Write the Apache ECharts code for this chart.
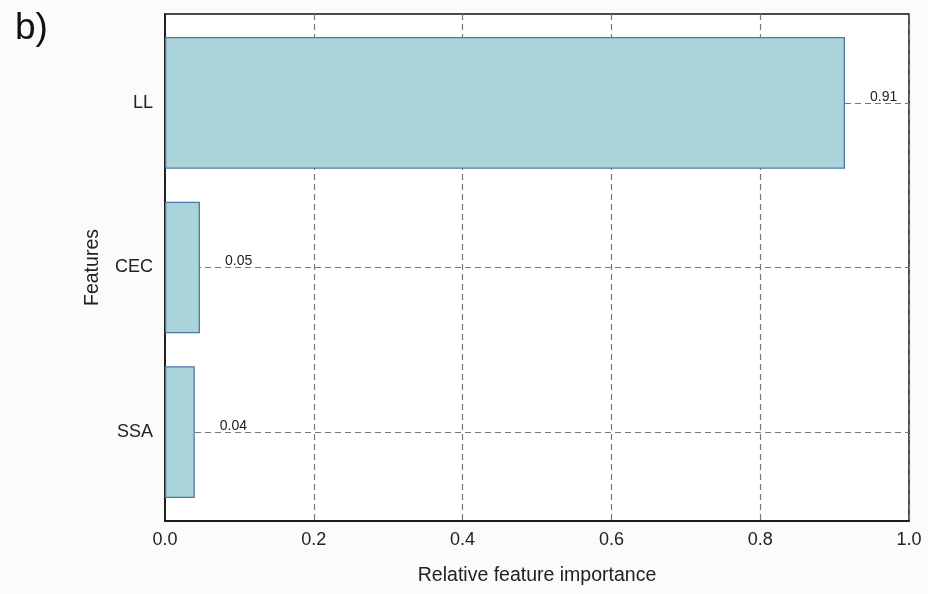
<!DOCTYPE html>
<html>
<head>
<meta charset="utf-8">
<script src="https://cdn.jsdelivr.net/npm/echarts@6/dist/echarts.min.js"></script>
<style>
  html, body { margin: 0; padding: 0; background: #fcfbf9; }
  #chart { width: 928px; height: 594px; }
</style>
</head>
<body>
<div id="chart"></div>
<script>
// Feature names (top to bottom) and their relative importance
const features = ['LL', 'CEC', 'SSA'];
const importance = [0.914, 0.047, 0.040];
const valueLabels = ['0.91', '0.05', '0.04'];
const xTicks = [0, 0.2, 0.4, 0.6, 0.8, 1.0];

const chart = echarts.init(document.getElementById('chart'), null, { renderer: 'canvas' });

const font = 'Liberation Sans, Arial, sans-serif';
const gridDash = { color: '#777', type: [6, 4], width: 1.2 };

chart.setOption({
  backgroundColor: '#fcfbf9',
  animation: false,
  title: {
    text: 'b)',
    left: 10,
    top: 5,
    textStyle: { fontFamily: font, fontSize: 37, fontWeight: 'normal', color: '#111' }
  },
  grid: [
    {
      // outer frame with the importance axis
      left: 165, right: 19, top: 14, bottom: 73,
      show: true,
      backgroundColor: '#ffffff',
      borderColor: '#111',
      borderWidth: 1.5
    },
    {
      // inner band area for the feature bars (axis padding above/below)
      left: 165, right: 19, top: 20.5, bottom: 79.5
    }
  ],
  xAxis: [
    {
      gridIndex: 0,
      type: 'value',
      min: 0, max: 1, interval: 0.2,
      name: 'Relative feature importance',
      nameLocation: 'middle',
      nameGap: 45,
      nameTextStyle: { fontFamily: font, fontSize: 19.5, color: '#222' },
      axisLine: { show: true, lineStyle: { color: '#111', width: 1.5 } },
      axisTick: { show: false },
      axisLabel: {
        fontFamily: font, fontSize: 18, color: '#222', margin: 10,
        formatter: v => {
          const t = xTicks.find(x => Math.abs(x - v) < 1e-9);
          return t === undefined ? '' : t.toFixed(1);
        }
      },
      splitLine: { show: true, lineStyle: gridDash }
    },
    {
      gridIndex: 1,
      type: 'value',
      min: 0, max: 1,
      show: false
    }
  ],
  yAxis: [
    {
      gridIndex: 0,
      type: 'value',
      min: 0, max: 1,
      axisLine: { show: true, lineStyle: { color: '#111', width: 1.5 } },
      axisTick: { show: false },
      axisLabel: { show: false },
      splitLine: { show: false }
    },
    {
      gridIndex: 1,
      type: 'category',
      data: features,
      inverse: true,
      name: 'Features',
      nameLocation: 'middle',
      nameGap: 62,
      nameRotate: 90,
      nameTextStyle: { fontFamily: font, fontSize: 19.5, color: '#222' },
      axisLine: { show: false },
      axisTick: { show: false },
      axisLabel: { fontFamily: font, fontSize: 18, color: '#222', margin: 12 },
      splitLine: { show: false }
    }
  ],
  series: [
    {
      // horizontal dashed guides through each category centre
      type: 'line',
      xAxisIndex: 1,
      yAxisIndex: 1,
      data: [],
      z: 1,
      silent: true,
      markLine: {
        z: 1,
        silent: true,
        symbol: 'none',
        label: { show: false },
        lineStyle: gridDash,
        data: features.map(f => ({ yAxis: f }))
      }
    },
    {
      type: 'bar',
      xAxisIndex: 1,
      yAxisIndex: 1,
      z: 3,
      barCategoryGap: '20%',
      data: importance,
      itemStyle: { color: '#aad4da', borderColor: '#4a78a8', borderWidth: 1.3 },
      label: {
        show: true,
        position: 'right',
        distance: 25,
        offset: [0, -6],
        fontFamily: font,
        fontSize: 14,
        color: '#222',
        formatter: p => valueLabels[p.dataIndex]
      }
    }
  ]
});
</script>
</body>
</html>
